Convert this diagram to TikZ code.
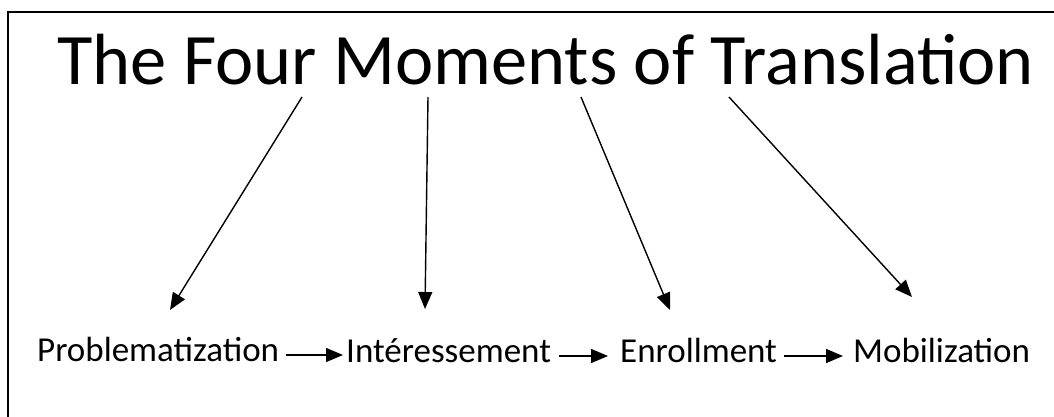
\documentclass[tikz,border=0pt]{standalone}
\usepackage{fontspec}
\setmainfont{Carlito}
\usetikzlibrary{arrows.meta}
\tikzset{
  title/.style={anchor=base west, inner sep=0pt, font=\fontsize{72.5}{86}\selectfont},
  word/.style={anchor=base west, inner sep=0pt, font=\fontsize{35}{42}\selectfont},
  link/.style={line width=1.4pt, -{Triangle[length=17pt,width=14pt]}},
}
\begin{document}
\begin{tikzpicture}[x=1pt,y=-1pt]
\useasboundingbox (0,0) rectangle (1054,417);
\draw[line width=1.8pt] (8,417) -- (8,12) -- (1054,12);
\node[title] (t) at (57,85) {The Four Moments of Translation};
\node[word] (p) at (37,361) {Problematization};
\node[word] (i) at (346,362) {Intéressement};
\node[word] (e) at (620,362) {Enrollment};
\node[word] (m) at (853,362) {Mobilization};
\coordinate (s1) at (302,97);
\coordinate (s2) at (428,97);
\coordinate (s3) at (581,97);
\coordinate (s4) at (729,97);
\coordinate (d1) at (170,310);
\coordinate (d2) at (425,309);
\coordinate (d3) at (670,310);
\coordinate (d4) at (912,297);
\draw[link] (s1) -- (d1);
\draw[link] (s2) -- (d2);
\draw[link] (s3) -- (d3);
\draw[link] (s4) -- (d4);
\draw[link, shorten <=7pt, shorten >=3pt] (p.east |- 0,355) -- (i.west |- 0,355);
\draw[link, shorten <=8pt, shorten >=12pt] (i.east |- 0,356) -- (e.west |- 0,356);
\draw[link, shorten <=7pt, shorten >=10pt] (e.east |- 0,356) -- (m.west |- 0,356);
\end{tikzpicture}
\end{document}
